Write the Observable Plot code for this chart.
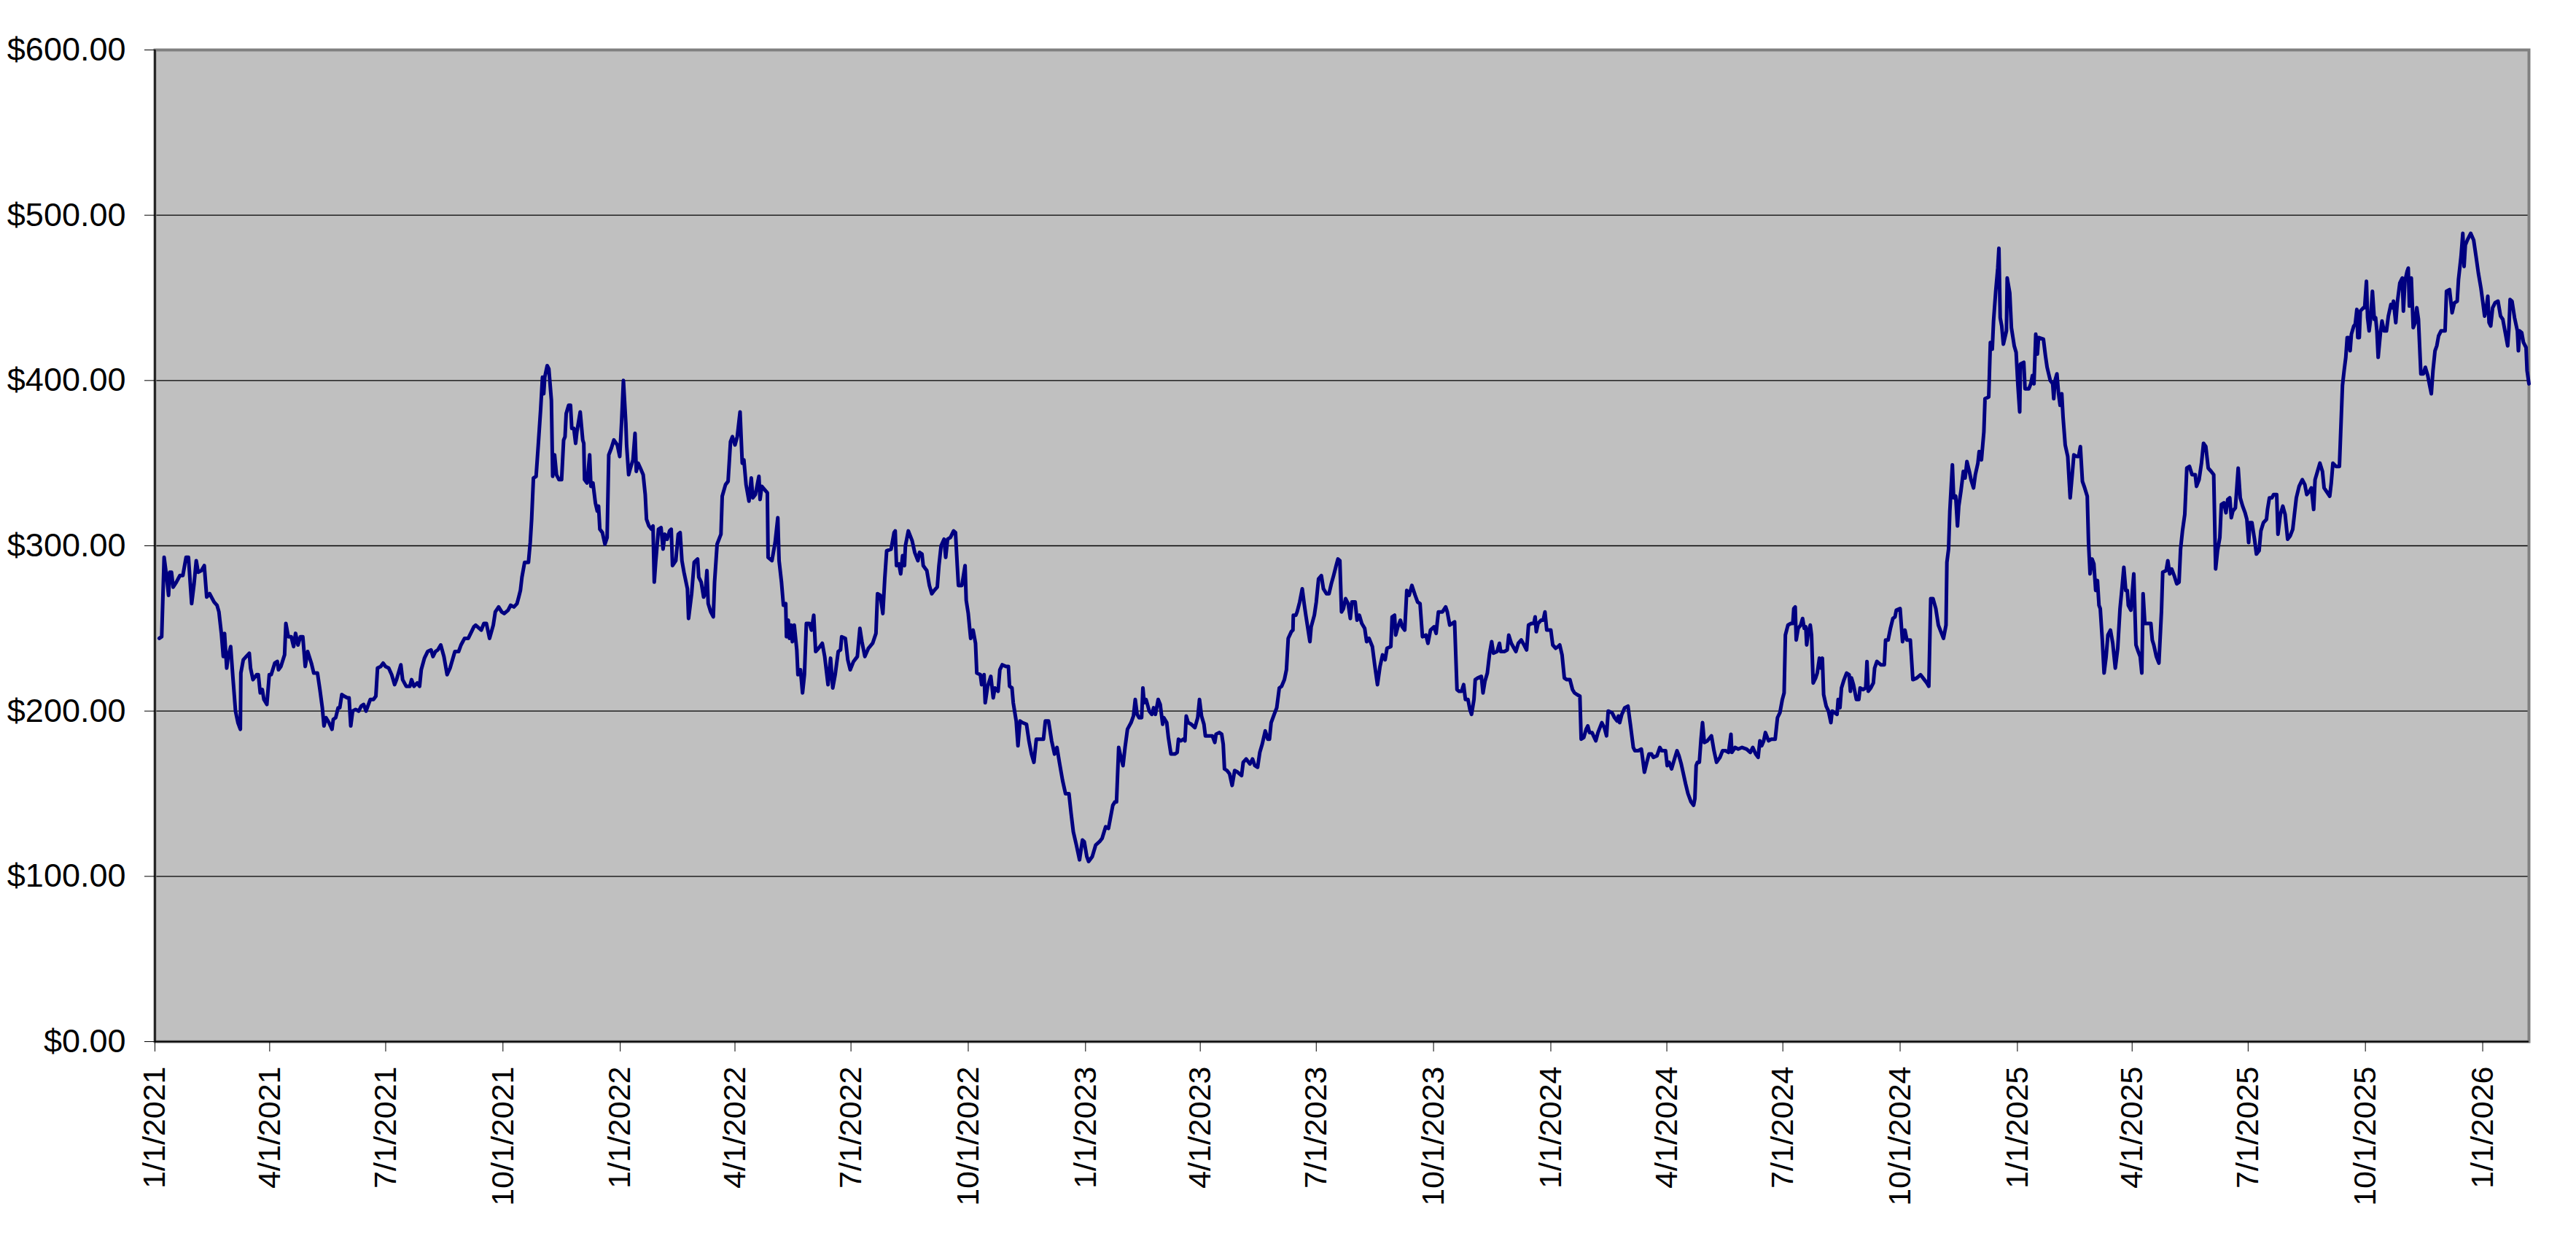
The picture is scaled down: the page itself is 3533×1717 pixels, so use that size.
<!DOCTYPE html>
<html>
<head>
<meta charset="utf-8">
<script src="https://cdn.jsdelivr.net/npm/d3@7"></script>
<script src="https://cdn.jsdelivr.net/npm/@observablehq/plot@0.6"></script>
<style>
  html, body { margin: 0; padding: 0; background: #ffffff; }
  #chart svg { display: block; }
</style>
</head>
<body>
<div id="chart"></div>
<script>
// Series start date; each point is "days since start" + closing price (USD)
const startDate = "2021-01-01";
const lastDay = 1862.3;

const dayOffsets = [
3.4,5.3,7.2,9.2,10.7,11.6,13,14.3,16.8,19.6,21.9,24.4,26.3,28.8,30.7,32.4,33.9,36.4,38.7,40.6,42.9,46.4,48.7,50.2,52.1,53.6,54.6,56.3,57.4,59.4,61.3,63.2,65.1,67,67.4,69.3,71.6,74,75,76.9,79.8,81.1,82.6,84.2,85.5,87.8,89.7,91.2,94,96,96.9,98.8,101.7,102.7,104.6,106.9,108.8,110.3,112.2,114.1,116,117.9,119.8,122.7,124.6,127.5,129.4,131.3,132.6,134.2,136.5,138.9,139.9,141.8,143.7,145,146.6,148.5,150.9,152.3,153.6,155.1,157.4,159.9,161.8,163.7,165.6,167.5,168.9,171.4,173.3,174.6,177.1,179,180.9,183.4,185.7,188,189.5,191.4,192.9,194.3,197.1,200,201.3,203.2,205.7,207.6,208.9,211.4,213.9,216.6,218.1,220,221.9,224.2,226.7,229.2,231.5,235.3,238.2,240.1,242.9,245.8,250.2,
251.6,256,258,260,262.5,265.4,267,269.6,272,274,277,279,281.6,284,285.4,286.7,287.9,290,293,294.4,295.5,296.9,299,300.7,302.6,304,305,305.8,307.7,309,311,312,313.5,315,317,319,320.6,321.7,322.6,324.5,326,327,328.6,330,331,333.6,335.6,336.4,337,339,341,342,343.6,345.5,347,348,349,351,353,354.7,356,358,360,362.7,364.6,366,367.5,369.4,370,371.6,373,375,376.6,377.6,379,380.8,383,384.6,385.6,387.5,389.5,390.7,391.7,392.8,395,397,398.6,400,401.8,403.7,405,406,408.6,410.5,412,413.4,415,417.7,418.6,421,423,425.7,426.6,428.5,430.4,431.7,433,434,436,438,439,441,444,445,447.6,449.6,451.5,453,455,456.8,459,460.7,462,463.7,466,467.8,469,471,473.8,474.7,476,480.4,481,484,486.5,488.6,489.6,491.5,493,494.8,495.4,
496.8,497.7,499,500,501.5,503.5,504.4,506.4,508,509.5,511,513.4,515,516.8,518.3,520.6,523.5,525.4,528,530,531.7,533.6,536,537.8,538.7,541.6,543.5,545.4,548,551,553,554.6,556.9,559.7,563,565.6,566.8,569,571,572.5,574,577.5,579.8,580.7,581.7,583.6,585,586.5,588,588.7,591,594,596,598.5,599.8,601.7,602.7,605.5,607.5,609.4,611.3,613.7,615,616.7,619,620.3,621.8,624,626.5,628,629.4,630.3,633,635.5,636.4,638,639.9,641.8,643.7,644.7,647.5,648.5,650.4,651.3,653.2,655.7,657.6,658.9,661.4,662.8,664.7,667.6,669.5,670.4,672.3,673.3,675.6,677,678.6,680.5,683.7,685.6,687.6,689.5,691.4,694.3,697,698.5,701,703.4,705.7,707.6,709.5,712,714.3,717,718.7,720.4,722.8,725.3,727.6,729,731,732.4,735.3,738,741,743,745.8,748,
751.4,753,754.3,756,758,759.4,761,762.9,765.7,767.6,769,770.5,772,774,775,776,777.5,780,782,783.4,784.8,787,788.6,790.5,791.4,793.7,795,797,800,801.9,802.9,804.8,806.7,808,809,810.5,813,815.8,818,819.4,821,822.9,824,826.7,829.5,831.4,832.4,834.9,836.8,838,839,841,843,845,847,849.4,852.4,853.7,856,858,859,861,862.8,865,866.7,868.6,871,873,874.3,875.6,878,880,882,883.8,886,887.6,889,891.4,892.7,893,895,896,898,900,901.5,902.8,906,907,909.5,911,912.8,915,916.6,919,921,922.8,924.6,926.6,928,929.5,930.8,932.3,934,936,937.7,939,941.5,943,944.8,946.7,949,950.5,952.4,955,957,959,961,963,965,966.5,969.5,970.5,972.4,973.3,975,977,978.4,980.4,982,983.8,986,988.6,990.5,992.4,994.3,997,998.6,1000.6,
1003.4,1005,1006.8,1010,1012.5,1013.8,1015.7,1017.6,1019.5,1021.4,1023,1025,1026.6,1028,1030,1031.5,1032.8,1034.7,1035.7,1037.6,1040.5,1041.8,1043.3,1045.2,1047,1048.6,1050,1052.8,1054.7,1055.7,1058.5,1060.8,1062,1064,1067.6,1069.5,1071.8,1074,1076,1077.5,1079.8,1081.7,1082.7,1083.6,1085,1087.4,1089,1090.4,1091.8,1093.7,1095,1096.5,1098.8,1100.7,1102,1103.8,1105.6,1107.6,1110,1112,1113.6,1115.5,1117.8,1118.8,1120.8,1122.7,1124,1125.4,1127.3,1130.3,1132,1135,1137,1138.7,1140,1143,1145,1147,1148,1149,1150.7,1153,1155.5,1157.4,1159.7,1161,1163.5,1166,1166.9,1168.4,1170.3,1172,1174,1175.4,1178.3,1180.5,1182,1185,1186.3,1187.8,1189.7,1192,1194,1195.5,1197.3,1199,1200.7,1202.6,1205,1207,1208,1209,1210,1211.5,1212.8,1214,1215.4,1217.8,1221,1223,1225,1227.7,1229.7,1232,1234.4,1236.3,1237,1239.5,1242,1245,1248.6,1251.5,1253.4,
1255.7,1257.6,1259,1260.4,1262,1263.3,1265.8,1268,1271,1272.8,1274.7,1276.6,1278,1279,1281,1283.3,1284.8,1285.6,1286.7,1287.5,1289,1291,1292.5,1293.8,1295,1295.7,1296.7,1298.5,1299.5,1300.8,1302.7,1304,1305.7,1307,1308,1309,1311,1312.8,1314.7,1315.7,1317.6,1319.5,1320.4,1321.8,1323,1325,1327,1329,1330,1330.9,1332.4,1334.7,1336.6,1337.6,1340,1342,1343,1344,1346,1348,1349,1350.8,1353.8,1356.6,1357.6,1359.6,1361.4,1363.3,1365,1366,1369,1370.9,1372.8,1374.3,1377,1379,1382,1385,1388,1390,1391.5,1393,1394.8,1397,1399,1401,1403,1405,1405.7,1407,1408,1410,1411,1412.6,1414,1415,1416.7,1418.6,1420,1421.4,1423.3,1424.6,1426.6,1428,1430,1431,1432.8,1434.7,1435.6,1438.5,1439.8,1441.3,1442.3,1444,1445.6,1446.5,1447.5,1448.7,1450,1452.4,1453,1455,1456.3,1458.5,1460,1461.4,1462.8,1463.4,1466,1467,1470,1471.5,1472.8,1474,1475.4,1476.7,1477.6,1481.4,1483,1484.3,1486.8,1488.7,1489.5,1490.5,1492,1493.3,1494.5,1495.8,1496.8,1498.5,1500.5,1502.4,1504,1505.3,1507.7,
1509,1510.4,1512,1513.8,1515.8,1516.8,1518,1519.6,1521,1522.4,1523.8,1525,1526,1527.6,1529,1530.6,1532,1534,1535.8,1537.8,1539.7,1541.5,1543,1544.5,1546,1547.2,1548,1550,1552.3,1554,1555.8,1557.3,1558.6,1559.6,1561,1563.8,1565.7,1566.8,1568,1570,1572,1574,1575,1577.7,1579,1580.5,1582,1584,1586,1587.8,1589,1590.5,1592.3,1593.9,1596,1598,1600.5,1601.5,1603.5,1605.4,1607,1608.8,1610.7,1613,1615,1616.5,1618,1619.8,1621,1623,1624.6,1626,1627.6,1628.8,1630,1632,1634.2,1635.8,1637.7,1639.6,1641,1642.4,1643.4,1645,1647,1648.5,1650.6,1652,1654,1656.4,1657.2,1658.7,1660.6,1662,1664.4,1665.4,1667.3,1669.2,1671,1673,1675,1677,1678.3,1679.8,1682,1684.5,1686.5,1688,1690,1691.6,1693.4,1694.5,1696.4,1698.3,1700.3,1701.6,1703.4,1706,1707.2,1708.5,1711,1713.6,
1716,1717.3,1718.6,1719.7,1721,1722,1723,1724.9,1726,1727.3,1728,1729.2,1730,1732.5,1733.4,1734.8,1735.7,1736.9,1738,1739.5,1741,1742,1743,1744,1745.8,1747,1748.6,1750.5,1752,1754,1755.3,1756,1757.8,1759,1761,1762.9,1763.8,1765,1766.7,1767.6,1768.5,1770,1771.5,1773,1774.3,1775.6,1777.5,1779.4,1781,1782.9,1784.4,1785.7,1787,1788.6,1790,1791.4,1793.3,1796.5,1797.6,1800,1802,1803.8,1806,1807,1809,1810.4,1811.4,1812.4,1814,1816.6,1818.9,1820.8,1822.6,1824.6,1826,1827.5,1828.9,1830,1831,1832.3,1833.8,1835.7,1838,1840,1841.8,1843.7,1845.6,1846.6,1847.5,1849,1851,1853.2,1854,1855,1856.6,1858,1860,1860.8,1862.3
];

const prices = [
244,245,293,281,270,284,284,275,278,282,282,293,293,265,277,291,284,285,288,269,271,266,264,260,247,233,247,226,233,239,219,200,193,189,223,231,233,235,226,219,222,222,211,213,207,204,222,222,229,230,225,227,234,253,245,245,239,247,240,245,245,227,236,229,223,223,213,202,191,196,193,189,195,196,202,202,210,209,208,208,191,200,201,200,203,204,200,204,207,207,209,226,227,229,227,226,222,216,219,224,228,219,215,215,219,215,217,215,225,232,236,237,233,236,237,240,233,222,226,236,236,240,244,244,251,
252,249,253,253,244,252,260,263,260,259,261,264,263,265,269,273,281,290,290,302,316,341,342,361,383,402,392,402,409,407,388,342,355,343,340,340,364,366,380,385,385,371,371,362,369,381,364,362,340,338,355,336,338,326,321,324,310,308,301,305,355,359,364,361,354,374,400,374,361,343,347,352,368,345,350,347,343,331,316,312,310,312,278,290,310,311,298,307,304,309,310,288,291,307,308,291,284,274,256,271,290,292,281,278,269,271,285,265,260,257,278,301,307,330,337,339,363,366,361,366,381,350,352,337,327,341,329,331,342,328,336,332,293,291,302,317,291,278,264,265,245,
255,244,252,242,252,237,222,225,211,222,253,253,249,258,236,238,241,233,216,232,214,222,236,237,245,244,231,225,230,233,250,242,233,238,241,247,271,270,259,280,297,298,308,309,288,289,283,294,288,300,309,303,296,291,296,295,288,285,276,271,273,275,288,300,304,293,304,305,309,308,288,276,276,288,267,259,244,249,241,223,222,216,222,205,215,221,208,214,212,225,228,227,227,215,214,205,194,179,194,193,192,182,174,169,183,183,183,194,194,182,174,178,169,158,150,150,138,127,119,110,122,121,112,109,112,119,121,123,130,129,
143,145,145,178,171,167,178,189,193,197,207,198,196,196,214,205,207,200,198,202,198,207,204,192,196,193,184,174,174,175,183,182,183,182,197,193,192,190,196,207,197,192,185,185,185,181,186,187,186,180,165,164,162,155,164,163,161,169,171,169,168,171,167,166,175,180,188,183,183,193,198,202,214,215,219,225,244,248,249,258,258,260,266,274,265,258,242,251,258,266,280,282,274,271,271,277,282,288,292,291,260,262,268,265,256,266,266,255,258,253,250,242,244,239,227,216,227,234,231,238,239,257,258,246,251,255,251,249,273,270,276,270,266,265,245,246,241,249,
251,247,260,260,263,260,252,253,254,213,212,212,216,207,207,201,198,207,219,220,221,211,218,223,235,242,235,236,241,236,236,237,246,241,236,241,243,240,237,252,253,253,257,248,253,255,255,260,249,249,249,240,238,239,240,234,220,219,219,213,211,210,209,183,184,189,191,187,187,182,187,193,190,185,200,199,196,194,197,193,198,202,203,192,178,176,176,177,172,163,169,174,174,172,173,178,176,176,167,169,165,171,176,173,168,162,156,150,145,143,147,167,169,169,183,193,181,182,185,176,169,172,176,176,175,186,175,178,177,178,177,175,178,
174,172,182,179,182,187,182,183,183,196,199,207,211,246,252,253,253,262,263,243,250,252,256,250,251,240,246,252,246,217,220,223,232,226,232,210,203,200,193,200,199,198,207,202,214,219,223,222,212,220,216,207,207,214,213,214,230,212,214,217,226,230,228,228,243,243,250,256,257,261,262,242,249,243,243,219,220,222,219,217,215,268,268,262,252,248,244,252,290,298,321,349,329,330,312,324,333,345,341,351,345,340,335,343,350,357,352,369,389,390,423,419,436,454,468,480,438,433,422,430,462,453,432,421,417,397,381,410,411,395,395,398,403,398,428,416,426,425,415,408,400,398,389,400,404,392,385,392,378,361,354,329,343,355,354,
354,360,339,335,330,302,283,292,289,273,279,264,262,243,223,233,246,249,241,226,238,262,274,287,273,273,264,261,283,240,236,233,223,271,253,253,253,243,240,233,229,260,284,285,291,283,286,282,277,278,298,309,319,347,348,343,343,336,340,350,362,360,347,345,343,286,297,305,325,326,320,328,329,317,321,323,347,329,324,320,316,302,314,314,304,295,297,309,314,316,322,329,329,331,331,307,319,324,319,304,306,310,319,329,336,340,337,331,333,335,322,340,345,350,345,335,333,330,338,350,348,348,
397,406,414,426,426,418,428,433,434,443,426,426,442,444,444,460,438,430,437,454,437,438,430,414,429,436,430,430,439,446,444,448,435,447,459,462,442,460,466,468,445,462,432,435,444,437,404,404,408,403,397,392,406,418,421,427,430,430,454,455,441,447,448,461,475,489,469,482,485,489,485,475,465,456,448,439,444,451,435,433,444,447,448,439,437,429,421,432,449,448,438,430,418,430,429,423,420,406,398
];

// Axis ticks
const yTicks = [0, 100, 200, 300, 400, 500, 600];
const xTickLabels = [
  "1/1/2021","4/1/2021","7/1/2021","10/1/2021",
  "1/1/2022","4/1/2022","7/1/2022","10/1/2022",
  "1/1/2023","4/1/2023","7/1/2023","10/1/2023",
  "1/1/2024","4/1/2024","7/1/2024","10/1/2024",
  "1/1/2025","4/1/2025","7/1/2025","10/1/2025",
  "1/1/2026"
];

const start = new Date(startDate + "T00:00:00Z");
const toDate = (d) => new Date(start.getTime() + d * 86400000);
const parseMDY = (s) => { const [m, d, y] = s.split("/").map(Number); return new Date(Date.UTC(y, m - 1, d)); };
const fmtMDY = (t) => `${t.getUTCMonth() + 1}/${t.getUTCDate()}/${t.getUTCFullYear()}`;

const n = Math.min(dayOffsets.length, prices.length);
const data = [];
for (let i = 0; i < n; i++) data.push({date: toDate(dayOffsets[i]), price: prices[i]});
const xTicks = xTickLabels.map(parseMDY);

const chart = Plot.plot({
  width: 3533,
  height: 1717,
  marginLeft: 212,
  marginRight: 65,
  marginTop: 68,
  marginBottom: 289,
  style: {fontFamily: "'Liberation Sans', Arial, sans-serif", background: "#ffffff", color: "#000000", overflow: "visible"},
  x: {type: "utc", domain: [start, toDate(lastDay)], label: null},
  y: {domain: [0, 600], label: null},
  marks: [
    Plot.frame({fill: "#C0C0C0"}),
    Plot.gridY(yTicks, {stroke: "#000000", strokeOpacity: 1, strokeWidth: 1.3}),
    Plot.frame({stroke: "#808080", strokeWidth: 4}),
    Plot.line(data, {x: "date", y: "price", stroke: "#000080", strokeWidth: 5, strokeLinejoin: "round", strokeLinecap: "round"}),
    Plot.ruleX([start], {stroke: "#000000", strokeWidth: 2}),
    Plot.ruleY([0], {stroke: "#000000", strokeWidth: 2}),
    Plot.axisY(yTicks, {label: null, tickFormat: (d) => "$" + d.toFixed(2), tickSize: 14, tickPadding: 26, fontSize: 45, stroke: "#000000"}),
    Plot.axisX(xTicks, {label: null, tickFormat: fmtMDY, tickRotate: -90, tickSize: 14, tickPadding: 20, fontSize: 43, stroke: "#000000"})
  ]
});
document.getElementById("chart").appendChild(chart);
</script>
</body>
</html>
